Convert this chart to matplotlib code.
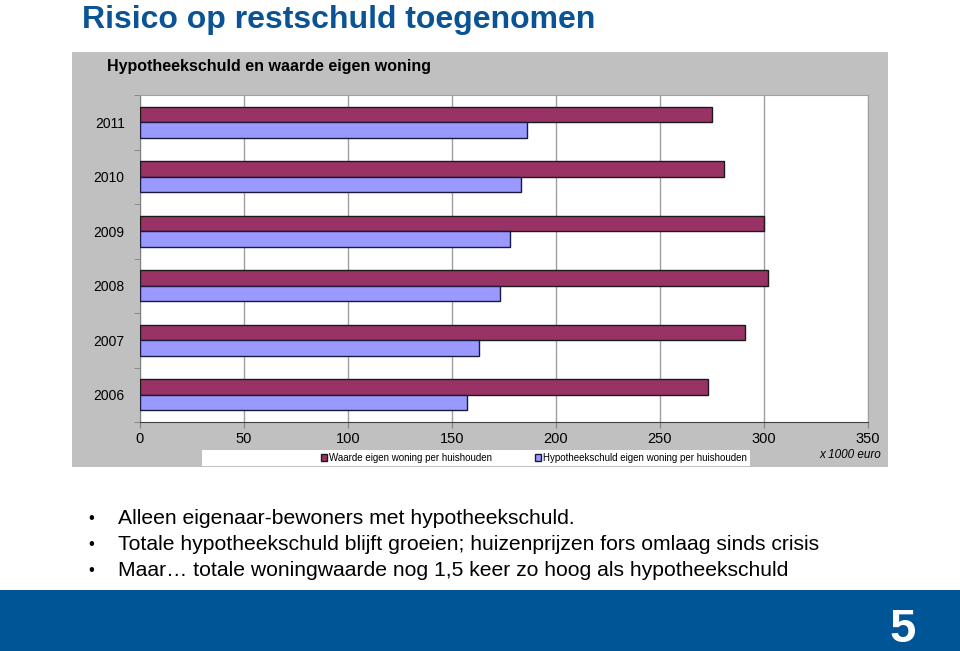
import numpy as np
import matplotlib.pyplot as plt
from matplotlib.patches import Rectangle

plt.rcParams['font.family'] = ['Liberation Sans', 'DejaVu Sans']

years = ['2006', '2007', '2008', '2009', '2010', '2011']
waarde = [273, 291, 302, 300, 281, 275]
schuld = [157, 163, 173, 178, 183, 186]
xticks = [0, 50, 100, 150, 200, 250, 300, 350]
bullets = ['Alleen eigenaar-bewoners met hypotheekschuld.',
           'Totale hypotheekschuld blijft groeien; huizenprijzen fors omlaag sinds crisis',
           'Maar\u2026 totale woningwaarde nog 1,5 keer zo hoog als hypotheekschuld']

W, H = 960, 651
fig = plt.figure(figsize=(W / 100, H / 100), dpi=100)

def fx(px):
    return px / W

def fy(py):
    return 1 - py / H

# grey chart panel
fig.patches.append(Rectangle((fx(72), fy(467)), fx(888) - fx(72), fy(52) - fy(467),
                             transform=fig.transFigure, facecolor='#c0c0c0', edgecolor='none', zorder=-2))
# white legend box
fig.patches.append(Rectangle((fx(202), fy(466)), fx(750) - fx(202), fy(450) - fy(466),
                             transform=fig.transFigure, facecolor='white', edgecolor='none', zorder=-1))
# blue footer
fig.patches.append(Rectangle((0, 0), 1, fy(590), transform=fig.transFigure,
                             facecolor='#005596', edgecolor='none', zorder=-2))

fig.text(fx(82), fy(28), 'Risico op restschuld toegenomen', fontsize=23, fontweight='bold',
         color='#0a5394', va='baseline', ha='left')
fig.text(fx(107), fy(67), 'Hypotheekschuld en waarde eigen woning', fontsize=11.5, fontweight='bold',
         color='black', va='center', ha='left')

ax = fig.add_axes([fx(140), fy(422), fx(868) - fx(140), fy(95) - fy(422)])
ax.set_zorder(1)
ax.set_facecolor('white')
y = np.arange(len(years))
h = 0.285
ax.barh(y + h / 2, waarde, height=h, color='#993366', edgecolor='#1a1a1a', linewidth=1,
        label='Waarde eigen woning per huishouden', zorder=3)
ax.barh(y - h / 2, schuld, height=h, color='#9999ff', edgecolor='#1a1a40', linewidth=1,
        label='Hypotheekschuld eigen woning per huishouden', zorder=3)
ax.set_xlim(0, 350)
ax.set_ylim(-0.5, len(years) - 0.5)
ax.set_xticks(xticks)
ax.set_xticklabels([str(t) for t in xticks], fontsize=10.5)
ax.set_yticks(y)
ax.set_yticklabels(years, fontsize=10)
ax.set_yticks(np.arange(-0.5, len(years)), minor=True)
ax.tick_params(axis='y', which='major', length=0, pad=11)
ax.tick_params(axis='y', which='minor', length=4, color='#808080')
ax.tick_params(axis='x', length=4, color='#808080', pad=3)
ax.grid(axis='x', color='#a0a0a0', linewidth=1, zorder=0)
for s in ax.spines.values():
    s.set_color('#a0a0a0')
ax.spines['bottom'].set_color('#404040')
ax.spines['left'].set_color('#808080')

leg = fig.legend(loc='center', bbox_to_anchor=(fx(534), fy(458)), ncol=2, fontsize=7,
                 frameon=False, handlelength=0.6, handleheight=0.6,
                 handletextpad=0.2, columnspacing=4.5, borderpad=0.2)
leg.set_zorder(2)

fig.text(fx(850), fy(455), 'x 1000 euro', fontsize=8.5, style='italic', ha='center', va='center')

for i, b in enumerate(bullets):
    yy = fy(519 + 26 * i)
    fig.text(fx(88), yy, '\u2022', fontsize=12, va='center', ha='left')
    fig.text(fx(118), yy, b, fontsize=15.2, va='center', ha='left')

fig.text(fx(903), fy(630), '5', fontsize=34, fontweight='bold', color='white', ha='center', va='center')

fig.savefig('out.png', dpi=100)
